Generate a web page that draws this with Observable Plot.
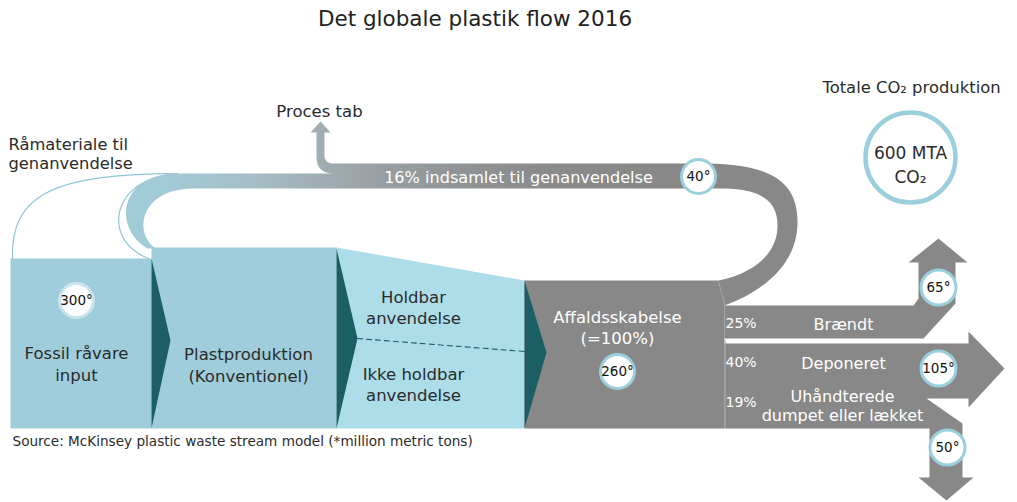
<!DOCTYPE html>
<html><head><meta charset="utf-8">
<script src="https://cdn.jsdelivr.net/npm/d3@7"></script>
<script src="https://cdn.jsdelivr.net/npm/@observablehq/plot@0.6"></script>
<style>
body{margin:0;background:#fff;font-family:"DejaVu Sans",sans-serif;}
#title{height:40px;width:950px;text-align:center;font-size:21.5px;line-height:37px;color:#222;}
#chart svg{display:block;}
</style></head><body>
<div id="title"></div>
<div id="chart"></div>
<script>
// ---------- data ----------
const chartTitle = "Det globale plastik flow 2016";
const stageNames = ["Fossil råvare\ninput", "Plastproduktion\n(Konventionel)", "Holdbar\nanvendelse", "Ikke holdbar\nanvendelse", "Affaldsskabelse\n(=100%)"];
const stockTonnes = [300, 40, 260];          // fossil input, recycled, waste generated
const fateNames = ["Brændt", "Deponeret", "Uhåndterede\ndumpet eller lækket"];
const fateShares = ["25%", "40%", "19%"];
const fateTonnes = [65, 105, 50];
const recycleLabel = "16% indsamlet til genanvendelse";
const lossLabel = "Proces tab";
const feedLabel = "Råmateriale til\ngenanvendelse";
const co2Title = "Totale CO₂ produktion";
const co2Total = "600 MTA\nCO₂";
const sourceNote = "Source: McKinsey plastic waste stream model (*million metric tons)";

// ---------- layout (page pixel space) ----------
const W = 1017, H = 462, Y0 = 40;
const FONT = "'DejaVu Sans', sans-serif";
const blue = "#9fcddb", cyan = "#acdde9", teal = "#1b5e64", gray = "#888888", ring = "#9ccfdd", ink = "#2b2b2b";

const cubic = (a,b,c,d,n=24) => d3.range(n+1).map(i => {const t=i/n,u=1-t;
  return [u*u*u*a[0]+3*u*u*t*b[0]+3*u*t*t*c[0]+t*t*t*d[0], u*u*u*a[1]+3*u*u*t*b[1]+3*u*t*t*c[1]+t*t*t*d[1]];});
const quad = (a,b,c,n=10) => d3.range(n+1).map(i => {const t=i/n,u=1-t;
  return [u*u*a[0]+2*u*t*b[0]+t*t*c[0], u*u*a[1]+2*u*t*b[1]+t*t*c[1]];});

const box1 = [[10,258],[151,258],[151,428],[10,428]];
const box2 = [[151,247],[336,247],[336,428],[151,428]];
const box3 = [[336,247],[524,280],[524,428],[336,428]];
const wasteBox = [[524,280],[718,280],[724,305],[724,428],[524,428]];
const chev1 = [[151,258],[170,340],[151,428]];
const chev2 = [[336,248],[357,338],[336,428]];
const chev3 = [[524,280],[546,352],[524,428]];

const band = [
  ...cubic([724,305],[765,290],[797,262],[797,222]),
  ...cubic([797,222],[797,180],[770,163],[700,163]),
  [333,163],
  ...quad([333,163],[324,163],[324,155]),
  [324,132],[330,132],[320,121],[310,132],[316,132],
  ...quad([316,156],[316,173],[333,173]),
  ...cubic([177,173],[118,173],[112,228],[147,248]),
  ...cubic([155,248],[132,232],[140,188],[193,188]),
  ...cubic([720,188],[760,188],[777,200],[777,225]),
  ...cubic([777,225],[777,258],[745,275],[718,280])
];

const burned = [[724,305],[913,305],[918,298],[918,262],[908,262],[938,238],[967,262],[955,262],[955,303],[923,338],[724,338]];
const landfill = [[724,343],[968,343],[968,331],[1004,368],[968,407],[968,398],[926,398],[962,423],[962,477],[973,477],[946,500],[918,477],[929,477],[929,428],[724,428]];

const feedOuter = cubic([12,258],[10,190],[60,174],[177,173]);
const feedInner = cubic([177,174],[110,176],[100,240],[148,258]);

const stagePos = [[76,362.5],[248,363.5],[413,306],[413,383],[617,326]];
const stockPos = [[76,300],[698,176],[617,371]];
const fatePos = [[843,323],[843,362],[842,404.5]];
const sharePos = [[725,323],[725,362],[725,402]];
const fateDotPos = [[938,287],[938,368],[947,447]];

const P = d => d[0], Q = d => d[1];
const shape = (pts, fill) => Plot.line(pts, {x:P, y:Q, fill, stroke:"none", curve:"linear-closed"});

const defs = () => {
  const g = d3.create("svg:defs");
  const lg = g.append("linearGradient").attr("id","recycleGrad").attr("gradientUnits","userSpaceOnUse")
    .attr("x1",165).attr("x2",640).attr("y1",0).attr("y2",0);
  [[0,"#a2cbd8"],[0.2,"#a5bcc5"],[0.45,"#999fa2"],[0.75,"#8b8c8d"],[1,gray]].forEach(([o,c]) =>
    lg.append("stop").attr("offset",o).attr("stop-color",c));
  return g.node();
};

const stageLabels = stageNames.map((t,i) => ({x:stagePos[i][0], y:stagePos[i][1], t}));
const stockDots = stockTonnes.map((v,i) => ({x:stockPos[i][0], y:stockPos[i][1], t:`${v}°`}));
const fateLabels = fateNames.map((t,i) => ({x:fatePos[i][0], y:fatePos[i][1], t}));
const shareLabels = fateShares.map((t,i) => ({x:sharePos[i][0], y:sharePos[i][1], t}));
const fateDots = fateTonnes.map((v,i) => ({x:fateDotPos[i][0], y:fateDotPos[i][1], t:`${v}°`}));

document.getElementById("title").textContent = chartTitle;

const chart = Plot.plot({
  width: W, height: H, margin: 0,
  x: {domain:[0,W], axis:null},
  y: {domain:[Y0, Y0+H], reverse:true, axis:null},
  style: {fontFamily: FONT, background:"#fff", overflow:"visible"},
  marks: [
    defs,
    Plot.line(feedOuter, {x:P, y:Q, stroke:"#8fc6d6", strokeWidth:1.2}),
    Plot.line(feedInner, {x:P, y:Q, stroke:"#8fc6d6", strokeWidth:1.2}),
    shape(band, "url(#recycleGrad)"),
    shape(box1, blue), shape(box2, blue), shape(box3, cyan), shape(wasteBox, gray),
    shape(burned, gray), shape(landfill, gray),
    shape(chev1, teal), shape(chev2, teal), shape(chev3, teal),
    Plot.line([[357,338],[524,351]], {x:P, y:Q, stroke:teal, strokeWidth:1.1, strokeDasharray:"5,4"}),
    Plot.line([[718,281],[725,305]], {x:P, y:Q, stroke:"#a4a4a4", strokeWidth:0.7}),
    Plot.line([[725,340],[725,428]], {x:P, y:Q, stroke:"#a4a4a4", strokeWidth:0.7}),
    // value circles
    Plot.dot(stockDots.slice(0,1), {x:"x", y:"y", r:17, fill:"#fff", stroke:"#c8e5ed", strokeWidth:3}),
    Plot.dot(stockDots.slice(1), {x:"x", y:"y", r:17, fill:"#fff", stroke:ring, strokeWidth:3}),
    Plot.dot(fateDots, {x:"x", y:"y", r:17.5, fill:"#fff", stroke:ring, strokeWidth:3}),
    Plot.dot([[910,157]], {x:P, y:Q, r:45, fill:"#fff", stroke:ring, strokeWidth:4.5}),
    Plot.text(stockDots, {x:"x", y:"y", text:"t", fontSize:13.5, fill:"#111", fontFamily:FONT}),
    Plot.text(fateDots, {x:"x", y:"y", text:"t", fontSize:13.5, fill:"#111", fontFamily:FONT}),
    Plot.text([[910,162.5]], {x:P, y:Q, text:[co2Total], fontSize:17, fill:ink, lineHeight:1.45, fontFamily:FONT}),
    // labels
    Plot.text(stageLabels.slice(0,4), {x:"x", y:"y", text:"t", fontSize:16.5, fill:ink, lineHeight:1.33, fontFamily:FONT}),
    Plot.text(stageLabels.slice(4), {x:"x", y:"y", text:"t", fontSize:16.5, fill:"#fff", lineHeight:1.33, fontFamily:FONT}),
    Plot.text(fateLabels, {x:"x", y:"y", text:"t", fontSize:16, fill:"#fff", lineHeight:1.19, fontFamily:FONT}),
    Plot.text(shareLabels, {x:"x", y:"y", text:"t", fontSize:14, fill:"#fff", textAnchor:"start", fontFamily:FONT}),
    Plot.text([[518,177]], {x:P, y:Q, text:[recycleLabel], fontSize:16.1, fill:"#fff", fontFamily:FONT}),
    Plot.text([[319,111]], {x:P, y:Q, text:[lossLabel], fontSize:16.5, fill:ink, fontFamily:FONT}),
    Plot.text([[8,153]], {x:P, y:Q, text:[feedLabel], fontSize:16.3, fill:ink, textAnchor:"start", lineHeight:1.18, fontFamily:FONT}),
    Plot.text([[911,87]], {x:P, y:Q, text:[co2Title], fontSize:16.4, fill:ink, fontFamily:FONT}),
    Plot.text([[12,441]], {x:P, y:Q, text:[sourceNote], fontSize:13.6, fill:ink, textAnchor:"start", fontFamily:FONT})
  ]
});
document.getElementById("chart").append(chart);
</script></body></html>
